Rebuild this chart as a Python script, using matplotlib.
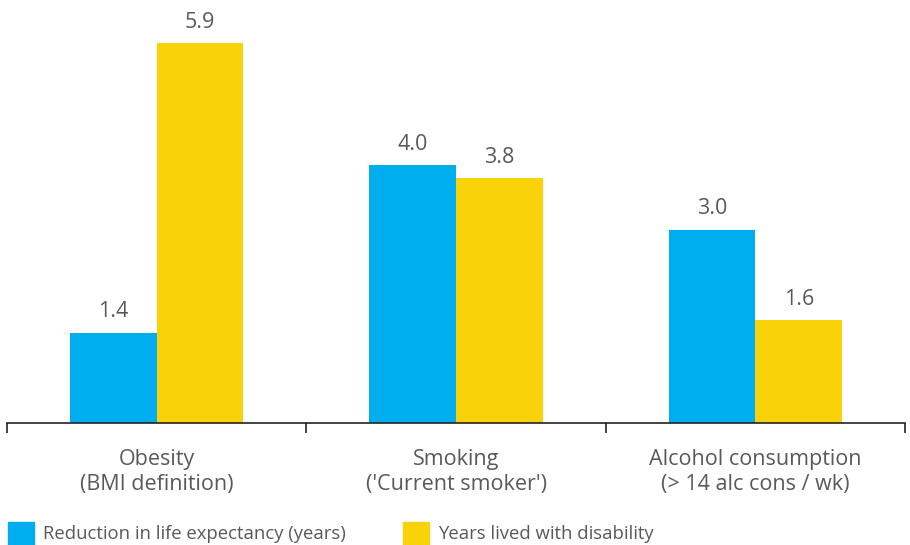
import numpy as np
import matplotlib.pyplot as plt
from matplotlib.patches import Rectangle

plt.rcParams['font.family'] = ['Open Sans', 'DejaVu Sans']

categories = ['Obesity\n(BMI definition)',
              "Smoking\n('Current smoker')",
              'Alcohol consumption\n(> 14 alc cons / wk)']
life_exp = [1.4, 4.0, 3.0]
disability = [5.9, 3.8, 1.6]
series_names = ['Reduction in life expectancy (years)', 'Years lived with disability']

blue = '#00AEEF'
yellow = '#F9D209'
txt = '#58595B'

fig = plt.figure(figsize=(9.1, 5.45), dpi=100)
ax = fig.add_axes([7/910, 122/545, 898/910, 423/545])

x = np.arange(len(categories))
w = 0.29
b1 = ax.bar(x - w/2, life_exp, w, color=blue)
b2 = ax.bar(x + w/2, disability, w, color=yellow)

for bars, vals in [(b1, life_exp), (b2, disability)]:
    for b, v in zip(bars, vals):
        ax.annotate(f'{v:.1f}', (b.get_x() + b.get_width()/2, v),
                    xytext=(0, 7.5), textcoords='offset points',
                    ha='center', va='bottom', fontsize=15.5, color=txt)

ax.set_xlim(-0.5, 2.5)
ax.set_ylim(0, 6.57)
ax.set_yticks([])
for s in ['top', 'right', 'left']:
    ax.spines[s].set_visible(False)
ax.spines['bottom'].set_color('#222222')
ax.spines['bottom'].set_linewidth(1.2)

# ticks sit on category boundaries, labels at category centres
ax.set_xticks([-0.5, 0.5, 1.5, 2.5])
ax.set_xticklabels([])
ax.tick_params(axis='x', length=7, width=1.2, color='#222222')
for i, c in enumerate(categories):
    ax.annotate(c, (i, 0), xytext=(0, -19), textcoords='offset points',
                ha='center', va='top', fontsize=15.5, color=txt,
                linespacing=1.2, annotation_clip=False)

# legend along the bottom edge
for i, (name, col) in enumerate(zip(series_names, [blue, yellow])):
    x0 = [8, 403][i]
    fig.patches.append(Rectangle((x0/910, 0), 26/910, 23/545, color=col,
                                 transform=fig.transFigure, figure=fig))
    fig.text((x0 + 35)/910, 11/545, name, ha='left', va='center',
             fontsize=13.3, color=txt)

fig.savefig('out.png', dpi=100)
